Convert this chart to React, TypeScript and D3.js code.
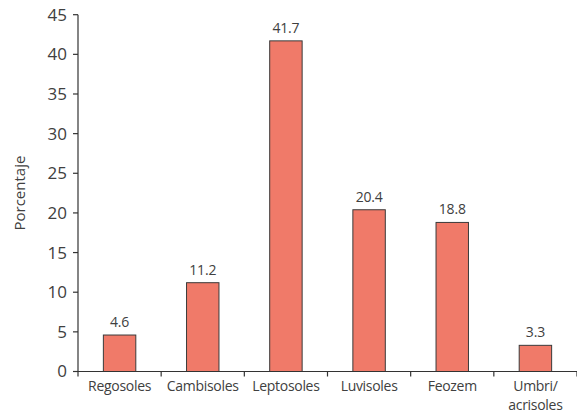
import React from "react";
import * as d3 from "d3";

const categories = ["Regosoles", "Cambisoles", "Leptosoles", "Luvisoles", "Feozem", "Umbri/\nacrisoles"];
const values = [4.6, 11.2, 41.7, 20.4, 18.8, 3.3];
const valueLabels = ["4.6", "11.2", "41.7", "20.4", "18.8", "3.3"];
const yTicks = [0, 5, 10, 15, 20, 25, 30, 35, 40, 45];

export default function App() {
  const W = 577, H = 414;
  const left = 78, right = 577, top = 14.7, bottom = 371.5;
  const x = d3.scaleBand<string>().domain(categories).range([left, right]).paddingInner(0.61).paddingOuter(0.305);
  const y = d3.scaleLinear().domain([0, 45]).range([bottom, top]);
  const step = (right - left) / categories.length;
  const font = "'Open Sans', sans-serif";
  const textColor = "#404040";
  return (
    <svg width={W} height={H} style={{ position: "absolute", left: 0, top: 0 }}>
      <rect width={W} height={H} fill="#fff" />
      {categories.map((c, i) => (
        <g key={c}>
          <rect x={x(c)} y={y(values[i])} width={x.bandwidth()} height={bottom - y(values[i])}
            fill="#F07A69" stroke="#3a3a3a" strokeWidth={1} />
          <text x={(x(c) as number) + x.bandwidth() / 2} y={y(values[i]) - 8} textAnchor="middle"
            fontFamily={font} fontSize={14} fill={textColor} letterSpacing={-0.2}>{valueLabels[i]}</text>
          {c.split("\n").map((line, j) => (
            <text key={j} x={(x(c) as number) + x.bandwidth() / 2} y={bottom + 19 + j * 19} textAnchor="middle"
              fontFamily={font} fontSize={14} fill={textColor} letterSpacing={-0.3}>{line}</text>
          ))}
        </g>
      ))}
      {/* x axis */}
      <line x1={left} x2={right} y1={bottom} y2={bottom} stroke="#333" strokeWidth={1.2} />
      {d3.range(categories.length + 1).map((i) => (
        <line key={i} x1={left + i * step} x2={left + i * step} y1={bottom} y2={bottom + 5} stroke="#333" strokeWidth={1.2} />
      ))}
      {/* y axis */}
      <line x1={left} x2={left} y1={top} y2={bottom} stroke="#333" strokeWidth={1.2} />
      {yTicks.map((t) => (
        <g key={t}>
          <line x1={left - 5} x2={left} y1={y(t)} y2={y(t)} stroke="#333" strokeWidth={1.2} />
          <text x={left - 11} y={y(t)} dy="0.35em" textAnchor="end" fontFamily={font} fontSize={17} fill={textColor}>{t}</text>
        </g>
      ))}
      <text transform={`translate(25,${(top + bottom) / 2}) rotate(-90)`} textAnchor="middle"
        fontFamily={font} fontSize={15} fill={textColor}>Porcentaje</text>
    </svg>
  );
}
